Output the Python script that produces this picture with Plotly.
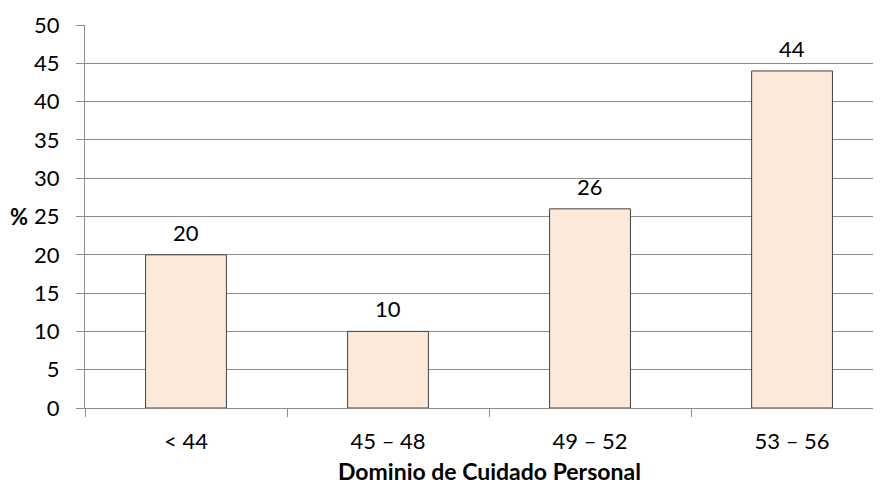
import plotly.graph_objects as go

categories = ["< 44", "45 – 48", "49 – 52", "53 – 56"]
values = [20, 10, 26, 44]
y_ticks = [0, 5, 10, 15, 20, 25, 30, 35, 40, 45, 50]

font_family = "Lato, 'Open Sans', sans-serif"
grid_color = "#8c8c8c"

fig = go.Figure()
fig.add_trace(go.Bar(
    x=categories,
    y=values,
    width=0.4,
    marker=dict(color="#fde9d9", line=dict(color="#404040", width=1)),
    cliponaxis=False,
))

label_annotations = [
    dict(text=str(v), x=c, xref="x", y=v, yref="y", yanchor="bottom",
         yshift=7, showarrow=False, font=dict(family=font_family, size=22, color="#000000"))
    for c, v in zip(categories, values)
]

fig.update_layout(
    width=881,
    height=485,
    margin=dict(l=77, r=0, t=17, b=85),
    paper_bgcolor="white",
    plot_bgcolor="white",
    showlegend=False,
    font=dict(family=font_family, size=22, color="#000000"),
    xaxis=dict(
        type="category",
        range=[-0.5, 3.48],
        tickson="boundaries",
        ticks="outside",
        ticklen=8,
        tickcolor=grid_color,
        showline=True,
        linecolor=grid_color,
        linewidth=1,
        showgrid=False,
        tickfont=dict(family=font_family, size=22),
        ticklabelstandoff=14,
    ),
    yaxis=dict(
        range=[0, 50],
        tickvals=y_ticks,
        ticks="outside",
        ticklen=8,
        tickcolor=grid_color,
        showline=True,
        linecolor=grid_color,
        linewidth=1,
        showgrid=True,
        gridcolor=grid_color,
        gridwidth=1,
        zeroline=False,
        tickfont=dict(family=font_family, size=22),
        ticklabelstandoff=12,
    ),
    annotations=label_annotations + [
        dict(text="<b>Dominio de Cuidado Personal</b>", x=1.5, xref="x",
             y=0, yref="paper", yanchor="middle", yshift=-63, showarrow=False,
             font=dict(family=font_family, size=23)),
        dict(text="<b>%</b>", x=0, xref="paper", xanchor="center", xshift=-66,
             y=25, yref="y", showarrow=False,
             font=dict(family=font_family, size=22)),
    ],
)

fig.write_html("out.html")
